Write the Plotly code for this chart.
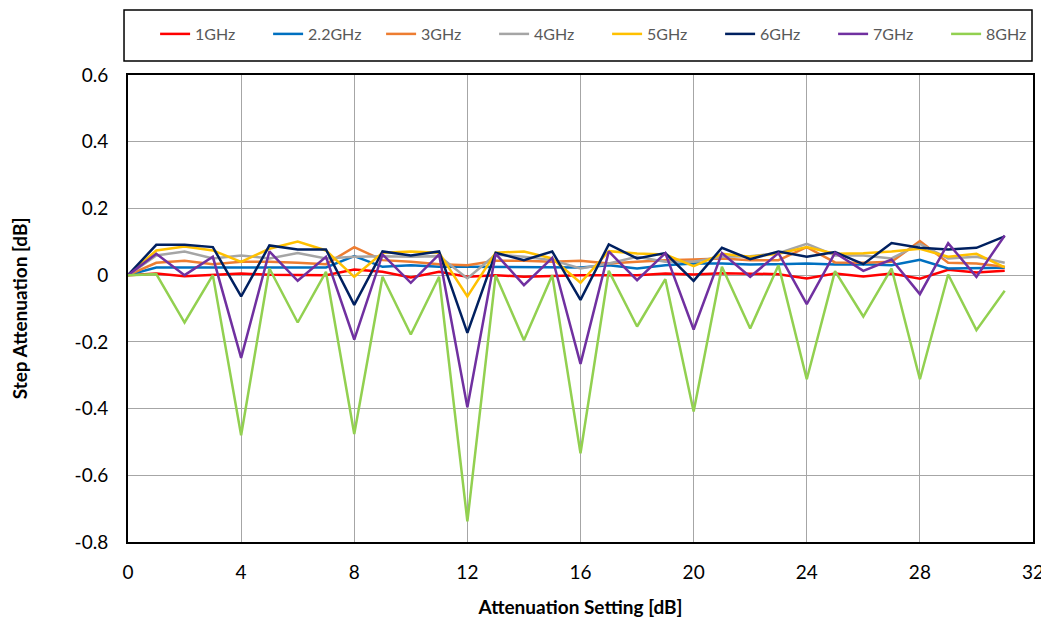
import plotly.graph_objects as go

# attenuation setting (dB)
att = [0, 1, 2, 3, 4, 5, 6, 7, 8, 9, 10, 11, 12, 13, 14, 15,
       16, 17, 18, 19, 20, 21, 22, 23, 24, 25, 26, 27, 28, 29, 30, 31]

# step attenuation error (dB) per frequency
f1 = [0, 0.005, -0.003, 0.001, 0.005, 0.001, 0, 0, 0.017, 0.01, -0.007, 0.01, -0.005, 0, -0.005, -0.002,
      0, 0, 0, 0.005, 0.002, 0.006, 0.004, 0.003, -0.01, 0.005, -0.004, 0.005, -0.011, 0.016, 0.008, 0.013]
f22 = [0, 0.023, 0.023, 0.023, 0.023, 0.023, 0.021, 0.023, 0.057, 0.025, 0.03, 0.025, 0.025, 0.025, 0.025, 0.025,
       0.023, 0.03, 0.02, 0.03, 0.035, 0.035, 0.032, 0.033, 0.035, 0.032, 0.033, 0.03, 0.046, 0.02, 0.02, 0.022]
f3 = [0, 0.037, 0.043, 0.033, 0.04, 0.04, 0.037, 0.033, 0.084, 0.045, 0.04, 0.033, 0.03, 0.043, 0.043, 0.04,
      0.043, 0.035, 0.04, 0.045, 0.047, 0.05, 0.045, 0.045, 0.084, 0.038, 0.037, 0.04, 0.102, 0.037, 0.035, 0.025]
f4 = [0, 0.059, 0.071, 0.05, 0.059, 0.05, 0.066, 0.05, 0.055, 0.057, 0.055, 0.057, -0.01, 0.062, 0.055, 0.045,
      0.02, 0.035, 0.055, 0.04, 0.04, 0.055, 0.057, 0.066, 0.094, 0.059, 0.059, 0.05, 0.094, 0.05, 0.055, 0.037]
f5 = [0, 0.074, 0.086, 0.074, 0.04, 0.079, 0.101, 0.074, -0.005, 0.067, 0.071, 0.067, -0.064, 0.067, 0.071, 0.05,
      -0.023, 0.072, 0.065, 0.062, 0.027, 0.064, 0.055, 0.064, 0.084, 0.064, 0.066, 0.071, 0.079, 0.055, 0.064, 0.023]
f6 = [0, 0.091, 0.091, 0.084, -0.064, 0.089, 0.077, 0.077, -0.089, 0.071, 0.059, 0.071, -0.173, 0.067, 0.045, 0.071,
      -0.074, 0.092, 0.05, 0.066, -0.017, 0.082, 0.048, 0.071, 0.055, 0.069, 0.033, 0.096, 0.082, 0.077, 0.082, 0.116]
f7 = [0, 0.064, 0, 0.055, -0.248, 0.071, -0.017, 0.055, -0.193, 0.062, -0.023, 0.062, -0.396, 0.064, -0.03, 0.052,
      -0.266, 0.071, -0.015, 0.066, -0.163, 0.066, -0.005, 0.066, -0.087, 0.067, 0.013, 0.047, -0.057, 0.096, -0.005, 0.119]
f8 = [0, 0.003, -0.142, 0, -0.48, 0.02, -0.142, 0.01, -0.476, -0.005, -0.178, -0.005, -0.738, 0, -0.195, 0,
      -0.534, 0.013, -0.154, -0.012, -0.409, 0.025, -0.16, 0.03, -0.312, 0.012, -0.124, 0.02, -0.312, 0.002, -0.165, -0.047]

names = ['1GHz', '2.2GHz', '3GHz', '4GHz', '5GHz', '6GHz', '7GHz', '8GHz']
series = [f1, f22, f3, f4, f5, f6, f7, f8]
colors = ['#FF0000', '#0070C0', '#ED7D31', '#A5A5A5', '#FFC000', '#002060', '#7030A0', '#92D050']

x_ticks = [0, 4, 8, 12, 16, 20, 24, 28, 32]
y_ticks = [-0.8, -0.6, -0.4, -0.2, 0, 0.2, 0.4, 0.6]
y_labels = ['-0.8', '-0.6', '-0.4', '-0.2', '0', '0.2', '0.4', '0.6']

FONT = 'Lato'

fig = go.Figure()

for name, vals, col in zip(names, series, colors):
    fig.add_trace(go.Scatter(
        x=att, y=vals, name=name, mode='lines',
        line=dict(color=col, width=2.5)
    ))

# legend frame
fig.add_shape(type='rect', xref='paper', yref='paper',
              x0=-0.0044, x1=0.9989, y0=1.030, y1=1.139,
              line=dict(color='black', width=1.5), fillcolor='white', layer='below')

# the page body adds an 8px offset, so the figure is 8px smaller
fig.update_layout(
    width=1041, height=615,
    margin=dict(l=120, r=16, t=67, b=81, autoexpand=False),
    plot_bgcolor='white', paper_bgcolor='white',
    font=dict(family=FONT, color='black', size=19),
    showlegend=True,
    legend=dict(
        orientation='h', xref='paper', yref='paper',
        x=-0.001, xanchor='left', y=1.0878, yanchor='middle',
        indentation=28,
        entrywidth=40, entrywidthmode='pixels',
        font=dict(family=FONT, size=16, color='#595959'),
        bgcolor='rgba(0,0,0,0)', borderwidth=0
    ),
    xaxis=dict(
        range=[0, 32], tickvals=x_ticks, ticktext=[str(v) for v in x_ticks],
        showgrid=True, gridcolor='#A6A6A6', gridwidth=1,
        showline=True, linecolor='black', linewidth=2, mirror=True,
        zeroline=False, ticks='', ticklabelstandoff=12, automargin=False,
        tickfont=dict(size=19, color='black'),
        title=dict(text='<b>Attenuation Setting [dB]</b>', font=dict(size=19), standoff=19)
    ),
    yaxis=dict(
        range=[-0.8, 0.6], tickvals=y_ticks, ticktext=y_labels,
        showgrid=True, gridcolor='#A6A6A6', gridwidth=1,
        showline=True, linecolor='black', linewidth=2, mirror=True,
        zeroline=False, ticks='', ticklabelstandoff=14, automargin=False,
        tickfont=dict(size=19, color='black'),
        title=dict(text='<b>Step Attenuation [dB]</b>', font=dict(size=19), standoff=59)
    )
)

fig.write_html("out.html")
